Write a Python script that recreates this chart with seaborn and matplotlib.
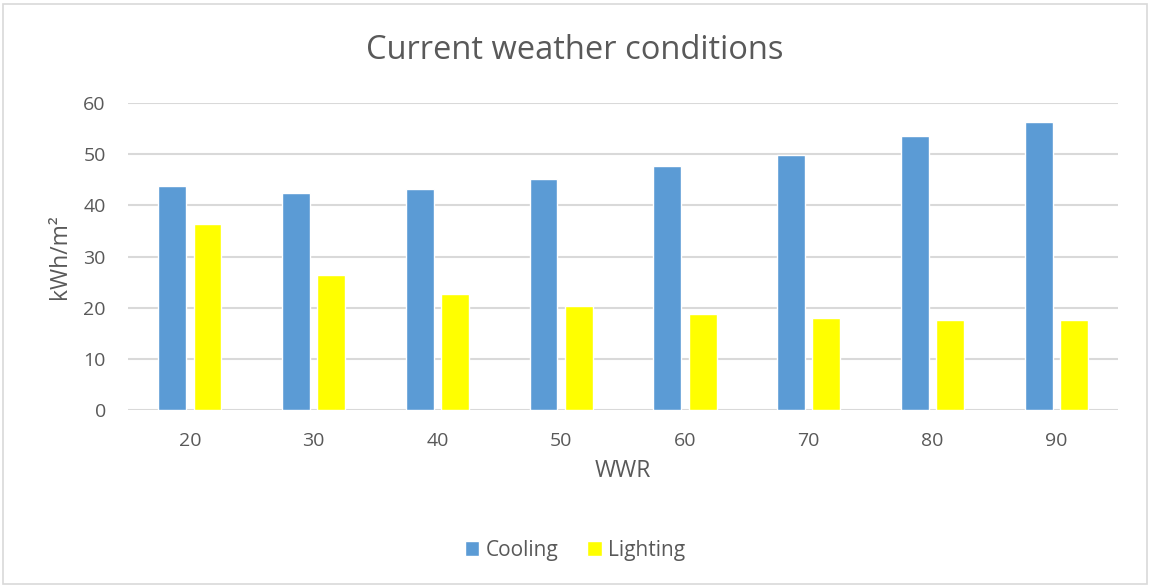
import pandas as pd
import seaborn as sns
import matplotlib.pyplot as plt
from matplotlib.patches import Rectangle

wwr = [20, 30, 40, 50, 60, 70, 80, 90]
cooling = [43.8, 42.5, 43.2, 45.1, 47.6, 49.9, 53.6, 56.3]
lighting = [36.3, 26.4, 22.6, 20.3, 18.8, 17.9, 17.6, 17.6]

df = pd.DataFrame({
    'WWR': wwr * 2,
    'value': cooling + lighting,
    'type': ['Cooling'] * len(wwr) + ['Lighting'] * len(wwr),
})

sns.set_style('white')
plt.rcParams['font.family'] = ['Open Sans', 'DejaVu Sans']
grey = '#595959'

fig = plt.figure(figsize=(11.5, 5.86), dpi=100)
ax = fig.add_axes([0.1113, 0.3003, 0.861, 0.5239])

sns.barplot(data=df, x='WWR', y='value', hue='type',
            palette={'Cooling': '#5b9bd5', 'Lighting': '#ffff00'},
            width=0.57, gap=0.21, saturation=1, ax=ax, zorder=3)

ax.set_ylim(0, 60)
ax.set_yticks(range(0, 61, 10))
ax.grid(axis='y', color='#d9d9d9', linewidth=1.5, zorder=0)
ax.set_axisbelow(True)
for s in ax.spines.values():
    s.set_visible(False)
ax.tick_params(axis='both', length=0, labelsize=14, colors=grey)
ax.tick_params(axis='x', pad=16)
ax.tick_params(axis='y', pad=16)
ax.set_xlabel('WWR', fontsize=16.5, color=grey, labelpad=6)
ax.set_ylabel('kWh/m²', fontsize=16.5, color=grey, labelpad=8)
fig.suptitle('Current weather conditions', x=0.5, y=0.914, va='center',
             fontsize=23.5, color=grey)

ax.legend(loc='center', bbox_to_anchor=(0.5, 0.061), bbox_transform=fig.transFigure,
          ncol=2, frameon=False, fontsize=15, labelcolor=grey,
          handlelength=0.7, handleheight=0.7, handletextpad=0.3, columnspacing=1.4)

fig.patches.append(Rectangle((0.003, 0.004), 0.994, 0.99, transform=fig.transFigure,
                             fill=False, edgecolor='#d9d9d9', linewidth=1.2))

fig.savefig('out.png', dpi=100, facecolor='white')
